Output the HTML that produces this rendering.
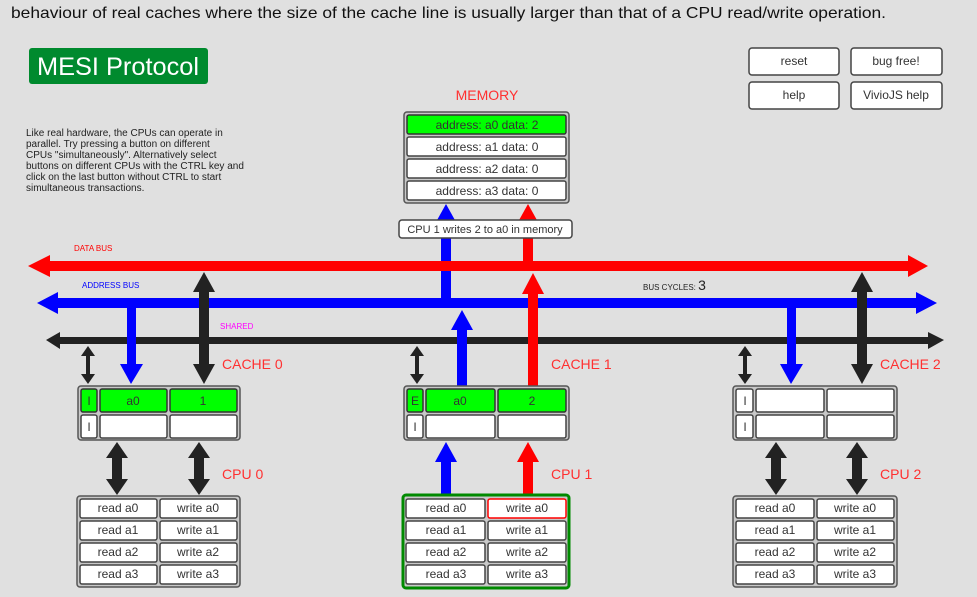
<!DOCTYPE html>
<html><head><meta charset="utf-8"><style>
html,body{margin:0;padding:0;background:#e0e0e0;}
svg{display:block;font-family:"Liberation Sans",sans-serif;}
.c{fill:#fff;stroke:#444;stroke-width:1.5;}
.g{fill:#00ff00;stroke:#333;stroke-width:1.5;}
.box{fill:#c8c8c8;stroke:#555;stroke-width:1.5;}
.t{font-size:12px;fill:#333;text-anchor:middle;}
.lab{font-size:14px;fill:#ff3030;}
</style></head><body>
<svg width="977" height="597" viewBox="0 0 977 597">
<rect width="977" height="597" fill="#e0e0e0"/>
<text x="11" y="18" font-size="16" fill="#111" textLength="875" lengthAdjust="spacingAndGlyphs">behaviour of real caches where the size of the cache line is usually larger than that of a CPU read/write operation.</text>
<rect x="29" y="48" width="179" height="36" rx="3" fill="#008a2e"/>
<text x="118" y="75" font-size="25" fill="#fff" text-anchor="middle" textLength="162" lengthAdjust="spacingAndGlyphs">MESI Protocol</text>
<g>
<rect x="749" y="48" width="90" height="27" rx="3" class="c"/><text x="794" y="65" class="t">reset</text>
<rect x="851" y="48" width="91" height="27" rx="3" class="c"/><text x="896" y="65" class="t">bug free!</text>
<rect x="749" y="82" width="90" height="27" rx="3" class="c"/><text x="794" y="99" class="t">help</text>
<rect x="851" y="82" width="91" height="27" rx="3" class="c"/><text x="896" y="99" class="t">VivioJS help</text>
</g>
<text x="26" y="136" font-size="10" fill="#222">Like real hardware, the CPUs can operate in</text>
<text x="26" y="147" font-size="10" fill="#222">parallel. Try pressing a button on different</text>
<text x="26" y="158" font-size="10" fill="#222">CPUs "simultaneously". Alternatively select</text>
<text x="26" y="169" font-size="10" fill="#222">buttons on different CPUs with the CTRL key and</text>
<text x="26" y="180" font-size="10" fill="#222">click on the last button without CTRL to start</text>
<text x="26" y="191" font-size="10" fill="#222">simultaneous transactions.</text>

<text x="487" y="100" class="lab" text-anchor="middle">MEMORY</text>
<rect x="404" y="112" width="165" height="91" rx="3" class="box"/>
<rect x="407" y="115" width="159" height="19" rx="2" class="g"/><text x="487" y="129" class="t">address: a0 data: 2</text>
<rect x="407" y="137" width="159" height="19" rx="2" class="c"/><text x="487" y="151" class="t">address: a1 data: 0</text>
<rect x="407" y="159" width="159" height="19" rx="2" class="c"/><text x="487" y="173" class="t">address: a2 data: 0</text>
<rect x="407" y="181" width="159" height="19" rx="2" class="c"/><text x="487" y="195" class="t">address: a3 data: 0</text>

<!-- memory arrows -->
<rect x="441" y="220" width="10" height="78" fill="#0000ff"/><polygon points="436,222 456,222 446,204" fill="#0000ff"/>
<rect x="523" y="220" width="10" height="44" fill="#ff0000"/><polygon points="518,222 538,222 528,204" fill="#ff0000"/>

<!-- buses -->
<rect x="48" y="261" width="862" height="10" fill="#ff0000"/><polygon points="50,255 50,277 28,266" fill="#ff0000"/><polygon points="908,255 908,277 928,266" fill="#ff0000"/>
<rect x="56" y="298" width="862" height="10" fill="#0000ff"/><polygon points="58,292 58,314 37,303" fill="#0000ff"/><polygon points="916,292 916,314 937,303" fill="#0000ff"/>
<rect x="58" y="337" width="870" height="7" fill="#222"/><polygon points="60,332 60,349 46,340" fill="#222"/><polygon points="928,332 928,349 944,340" fill="#222"/>

<rect x="399" y="220" width="173" height="18" rx="3" class="c"/><text x="485" y="233" font-size="11" fill="#333" text-anchor="middle">CPU 1 writes 2 to a0 in memory</text>

<text x="74" y="251" font-size="8" fill="#ff0000">DATA BUS</text>
<text x="82" y="288" font-size="8" fill="#0000ff">ADDRESS BUS</text>
<text x="220" y="329" font-size="8" fill="#ff00ff">SHARED</text>
<text x="643" y="290" font-size="8" fill="#222">BUS CYCLES: <tspan font-size="14">3</tspan></text>

<!-- cache 0 -->
<g>
<rect x="86" y="352" width="4" height="26" fill="#222"/><polygon points="81,356 95,356 88,346" fill="#222"/><polygon points="81,374 95,374 88,384" fill="#222"/>
<rect x="127" y="308" width="9" height="58" fill="#0000ff"/><polygon points="120,364 143,364 131,384" fill="#0000ff"/>
<rect x="199" y="288" width="10" height="80" fill="#222"/><polygon points="193,292 215,292 204,272" fill="#222"/><polygon points="193,364 215,364 204,384" fill="#222"/>
<text x="222" y="369" class="lab">CACHE 0</text>
<rect x="78" y="386" width="162" height="54" rx="3" class="box"/>
<rect x="81" y="389" width="16" height="23" rx="2" class="g"/><text x="89" y="405" class="t">I</text>
<rect x="100" y="389" width="67" height="23" rx="2" class="g"/><text x="133" y="405" class="t">a0</text>
<rect x="170" y="389" width="67" height="23" rx="2" class="g"/><text x="203" y="405" class="t">1</text>
<rect x="81" y="415" width="16" height="23" rx="2" class="c"/><text x="89" y="431" class="t">I</text>
<rect x="100" y="415" width="67" height="23" rx="2" class="c"/>
<rect x="170" y="415" width="67" height="23" rx="2" class="c"/>
<rect x="112" y="455" width="10" height="28" fill="#222"/><polygon points="106,458 128,458 117,442" fill="#222"/><polygon points="106,479 128,479 117,495" fill="#222"/>
<rect x="194" y="455" width="10" height="28" fill="#222"/><polygon points="188,458 210,458 199,442" fill="#222"/><polygon points="188,479 210,479 199,495" fill="#222"/>
<text x="222" y="479" class="lab">CPU 0</text>
<rect x="77" y="496" width="163" height="91" rx="3" class="box"/>
<rect x="80" y="499" width="77" height="19" rx="2" class="c"/><text x="118" y="512" class="t">read a0</text>
<rect x="160" y="499" width="77" height="19" rx="2" class="c"/><text x="198" y="512" class="t">write a0</text>
<rect x="80" y="521" width="77" height="19" rx="2" class="c"/><text x="118" y="534" class="t">read a1</text>
<rect x="160" y="521" width="77" height="19" rx="2" class="c"/><text x="198" y="534" class="t">write a1</text>
<rect x="80" y="543" width="77" height="19" rx="2" class="c"/><text x="118" y="556" class="t">read a2</text>
<rect x="160" y="543" width="77" height="19" rx="2" class="c"/><text x="198" y="556" class="t">write a2</text>
<rect x="80" y="565" width="77" height="19" rx="2" class="c"/><text x="118" y="578" class="t">read a3</text>
<rect x="160" y="565" width="77" height="19" rx="2" class="c"/><text x="198" y="578" class="t">write a3</text>
</g>

<!-- cache 1 -->
<g>
<rect x="415" y="352" width="4" height="26" fill="#222"/><polygon points="410,356 424,356 417,346" fill="#222"/><polygon points="410,374 424,374 417,384" fill="#222"/>
<rect x="457" y="326" width="10" height="60" fill="#0000ff"/><polygon points="451,330 473,330 462,310" fill="#0000ff"/>
<rect x="528" y="290" width="10" height="96" fill="#ff0000"/><polygon points="522,294 544,294 533,273" fill="#ff0000"/>
<text x="551" y="369" class="lab">CACHE 1</text>
<rect x="404" y="386" width="165" height="54" rx="3" class="box"/>
<rect x="407" y="389" width="16" height="23" rx="2" class="g"/><text x="415" y="405" class="t">E</text>
<rect x="426" y="389" width="69" height="23" rx="2" class="g"/><text x="460" y="405" class="t">a0</text>
<rect x="498" y="389" width="68" height="23" rx="2" class="g"/><text x="532" y="405" class="t">2</text>
<rect x="407" y="415" width="16" height="23" rx="2" class="c"/><text x="415" y="431" class="t">I</text>
<rect x="426" y="415" width="69" height="23" rx="2" class="c"/>
<rect x="498" y="415" width="68" height="23" rx="2" class="c"/>
<rect x="441" y="460" width="10" height="36" fill="#0000ff"/><polygon points="435,462 457,462 446,442" fill="#0000ff"/>
<rect x="523" y="460" width="10" height="36" fill="#ff0000"/><polygon points="517,462 539,462 528,442" fill="#ff0000"/>
<text x="551" y="479" class="lab">CPU 1</text>
<rect x="403" y="495" width="166" height="93" rx="3" fill="#c8c8c8" stroke="#008a00" stroke-width="3"/>
<rect x="406" y="499" width="79" height="19" rx="2" class="c"/><text x="446" y="512" class="t">read a0</text>
<rect x="488" y="499" width="78" height="19" rx="2" fill="#fff" stroke="#ff0000" stroke-width="1.5"/><text x="527" y="512" class="t">write a0</text>
<rect x="406" y="521" width="79" height="19" rx="2" class="c"/><text x="446" y="534" class="t">read a1</text>
<rect x="488" y="521" width="78" height="19" rx="2" class="c"/><text x="527" y="534" class="t">write a1</text>
<rect x="406" y="543" width="79" height="19" rx="2" class="c"/><text x="446" y="556" class="t">read a2</text>
<rect x="488" y="543" width="78" height="19" rx="2" class="c"/><text x="527" y="556" class="t">write a2</text>
<rect x="406" y="565" width="79" height="19" rx="2" class="c"/><text x="446" y="578" class="t">read a3</text>
<rect x="488" y="565" width="78" height="19" rx="2" class="c"/><text x="527" y="578" class="t">write a3</text>
</g>

<!-- cache 2 -->
<g>
<rect x="743" y="352" width="4" height="26" fill="#222"/><polygon points="738,356 752,356 745,346" fill="#222"/><polygon points="738,374 752,374 745,384" fill="#222"/>
<rect x="787" y="308" width="9" height="58" fill="#0000ff"/><polygon points="780,364 803,364 791,384" fill="#0000ff"/>
<rect x="857" y="288" width="10" height="80" fill="#222"/><polygon points="851,292 873,292 862,272" fill="#222"/><polygon points="851,364 873,364 862,384" fill="#222"/>
<text x="880" y="369" class="lab">CACHE 2</text>
<rect x="733" y="386" width="164" height="54" rx="3" class="box"/>
<rect x="736" y="389" width="17" height="23" rx="2" class="c"/><text x="745" y="405" class="t">I</text>
<rect x="756" y="389" width="68" height="23" rx="2" class="c"/>
<rect x="827" y="389" width="67" height="23" rx="2" class="c"/>
<rect x="736" y="415" width="17" height="23" rx="2" class="c"/><text x="745" y="431" class="t">I</text>
<rect x="756" y="415" width="68" height="23" rx="2" class="c"/>
<rect x="827" y="415" width="67" height="23" rx="2" class="c"/>
<rect x="771" y="455" width="10" height="28" fill="#222"/><polygon points="765,458 787,458 776,442" fill="#222"/><polygon points="765,479 787,479 776,495" fill="#222"/>
<rect x="852" y="455" width="10" height="28" fill="#222"/><polygon points="846,458 868,458 857,442" fill="#222"/><polygon points="846,479 868,479 857,495" fill="#222"/>
<text x="880" y="479" class="lab">CPU 2</text>
<rect x="733" y="496" width="164" height="91" rx="3" class="box"/>
<rect x="736" y="499" width="78" height="19" rx="2" class="c"/><text x="775" y="512" class="t">read a0</text>
<rect x="817" y="499" width="77" height="19" rx="2" class="c"/><text x="855" y="512" class="t">write a0</text>
<rect x="736" y="521" width="78" height="19" rx="2" class="c"/><text x="775" y="534" class="t">read a1</text>
<rect x="817" y="521" width="77" height="19" rx="2" class="c"/><text x="855" y="534" class="t">write a1</text>
<rect x="736" y="543" width="78" height="19" rx="2" class="c"/><text x="775" y="556" class="t">read a2</text>
<rect x="817" y="543" width="77" height="19" rx="2" class="c"/><text x="855" y="556" class="t">write a2</text>
<rect x="736" y="565" width="78" height="19" rx="2" class="c"/><text x="775" y="578" class="t">read a3</text>
<rect x="817" y="565" width="77" height="19" rx="2" class="c"/><text x="855" y="578" class="t">write a3</text>
</g>
</svg>
</body></html>
